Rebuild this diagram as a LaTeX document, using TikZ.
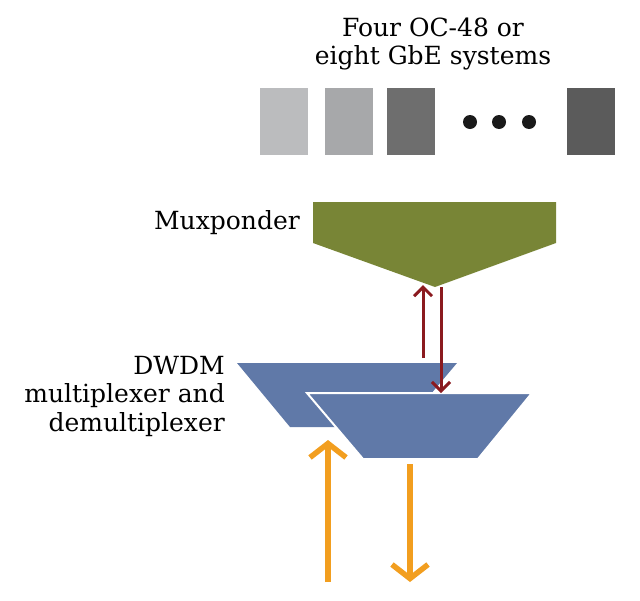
\documentclass[tikz,border=0pt]{standalone}
\usepackage{fontspec}
\setmainfont{DejaVu Serif}
\usetikzlibrary{arrows.meta}
\definecolor{gA}{HTML}{BBBCBE}
\definecolor{gB}{HTML}{A7A8AA}
\definecolor{gC}{HTML}{6E6E6E}
\definecolor{gD}{HTML}{5B5B5B}
\definecolor{dotc}{HTML}{1A1A1A}
\definecolor{olive}{HTML}{788536}
\definecolor{wdm}{HTML}{6079A8}
\definecolor{redarr}{HTML}{8B1A1F}
\definecolor{orangearr}{HTML}{F29E1F}
\tikzset{
  lbl/.style={font=\fontsize{25}{28.5}\selectfont, inner sep=0pt},
  sysbox/.style={inner sep=0pt, minimum width=48pt, minimum height=67pt},
  dotnode/.style={circle, fill=dotc, inner sep=0pt, minimum size=14pt},
  redline/.style={draw=redarr, line width=3pt, -{Straight Barb[length=9pt,width=18pt]}},
  orangeline/.style={draw=orangearr, line width=5.5pt, -{Straight Barb[length=14pt,width=36pt]}},
  wdmshape/.style={fill=wdm},
}
\begin{document}
\begin{tikzpicture}[x=1pt,y=-1pt]
\useasboundingbox (0,0) rectangle (640,600);
% labels
\node[lbl, align=center] (sys) at (433,44) {Four OC-48 or\\eight GbE systems};
\node[lbl, anchor=base east] (muxlbl) at (300,229) {Muxponder};
\node[lbl, align=right, anchor=east] (wdmlbl) at (225,396) {DWDM\\multiplexer and\\demultiplexer};
% systems
\node[sysbox, fill=gA] (s1) at (284,121.5) {};
\node[sysbox, fill=gB] (s2) at (348.5,121.5) {};
\node[sysbox, fill=gC] (s3) at (411,121.5) {};
\node[dotnode] (d1) at (470,122) {};
\node[dotnode] (d2) at (499,122) {};
\node[dotnode] (d3) at (529,122) {};
\node[sysbox, fill=gD] (s4) at (591,121.5) {};
% muxponder
\fill[olive] (313,202) -- (556,202) -- (556,243) -- (435,287) -- (313,243) -- cycle;
% DWDM back and front
\fill[wdmshape] (237,363) -- (457,363) -- (403,427) -- (290,427) -- cycle;
\filldraw[wdmshape, draw=white, line width=2pt] (307,393) -- (532,393) -- (478,459) -- (363,459) -- cycle;
% arrow end points
\coordinate (rupS) at (423,358);
\coordinate (rupE) at (423,285);
\coordinate (rdnS) at (441,287);
\coordinate (rdnE) at (441,393);
\coordinate (oupS) at (328,582);
\coordinate (oupE) at (328,440);
\coordinate (odnS) at (410,464);
\coordinate (odnE) at (410,582);
\draw[redline] (rupS) -- (rupE);
\draw[redline] (rdnS) -- (rdnE);
\draw[orangeline] (oupS) -- (oupE);
\draw[orangeline] (odnS) -- (odnE);
\end{tikzpicture}
\end{document}
